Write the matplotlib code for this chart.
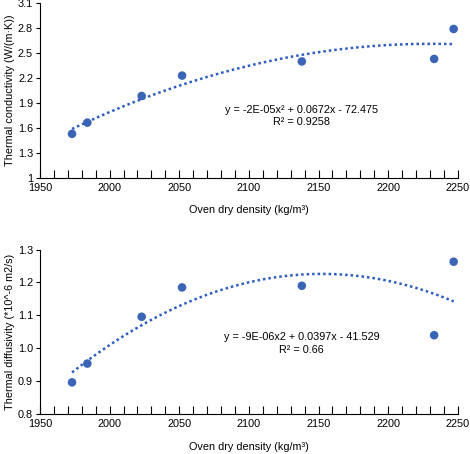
import numpy as np
import matplotlib.pyplot as plt
from matplotlib.ticker import MultipleLocator

density = [1973, 1984, 2023, 2052, 2138, 2233, 2247]
conductivity = [1.53, 1.665, 1.985, 2.23, 2.40, 2.43, 2.79]
diffusivity = [0.897, 0.954, 1.096, 1.185, 1.190, 1.040, 1.263]

yticks_top = [1, 1.3, 1.6, 1.9, 2.2, 2.5, 2.8, 3.1]
ylabels_top = ['1', '1.3', '1.6', '1.9', '2.2', '2.5', '2.8', '3.1']
yticks_bottom = [0.8, 0.9, 1.0, 1.1, 1.2, 1.3]
ylabels_bottom = ['0.8', '0.9', '1.0', '1.1', '1.2', '1.3']

eq_top = 'y = -2E-05x² + 0.0672x - 72.475\nR² = 0.9258'
eq_bottom = 'y = -9E-06x2 + 0.0397x - 41.529\nR² = 0.66'

blue = '#3a64b5'
line_blue = '#2c5cc0'
fs = 7.8

plt.rcParams['font.family'] = ['Liberation Sans', 'DejaVu Sans']
fig = plt.figure(figsize=(4.7, 4.54), dpi=100)
ax1 = fig.add_axes([0.0851, 0.608, 0.889, 0.385])
ax2 = fig.add_axes([0.0851, 0.0874, 0.889, 0.363])


def draw(ax, y, ylim, ticks, labels, ylabel, eq, eq_y):
    x = np.array(density)
    coef = np.polyfit(x, y, 2)    # excel-style 2nd order trendline
    xs = np.linspace(x.min(), x.max(), 200)
    ax.plot(xs, np.polyval(coef, xs), color=line_blue, lw=1.8,
            linestyle=(0, (1, 1.2)), zorder=2)
    ax.scatter(x, y, s=38, color=blue, zorder=3, edgecolors='none')
    ax.set_xlim(1950, 2250)
    ax.set_ylim(*ylim)
    ax.xaxis.set_major_locator(MultipleLocator(50))
    ax.xaxis.set_minor_locator(MultipleLocator(10))
    ax.set_yticks(ticks)
    ax.set_yticklabels(labels)
    ax.tick_params(axis='x', which='both', direction='in', length=6,
                   width=0.8, labelsize=fs, pad=3.5)
    ax.tick_params(axis='y', direction='out', length=3, width=0.8,
                   labelsize=fs, pad=2)
    for s in ['top', 'right']:
        ax.spines[s].set_visible(False)
    for s in ['left', 'bottom']:
        ax.spines[s].set_linewidth(0.8)
    ax.set_xlabel('Oven dry density (kg/m³)', fontsize=fs, labelpad=9)
    ax.set_ylabel(ylabel, fontsize=fs, labelpad=2)
    ax.text(2138, eq_y, eq, ha='center', va='center', fontsize=fs,
            linespacing=1.35)


draw(ax1, conductivity, (1, 3.1), yticks_top, ylabels_top,
     'Thermal conductivity (W/(m·K))', eq_top, 1.745)
draw(ax2, diffusivity, (0.8, 1.3), yticks_bottom, ylabels_bottom,
     'Thermal diffusivity (*10^-6 m2/s)', eq_bottom, 1.015)

fig.savefig('out.png', dpi=100)
